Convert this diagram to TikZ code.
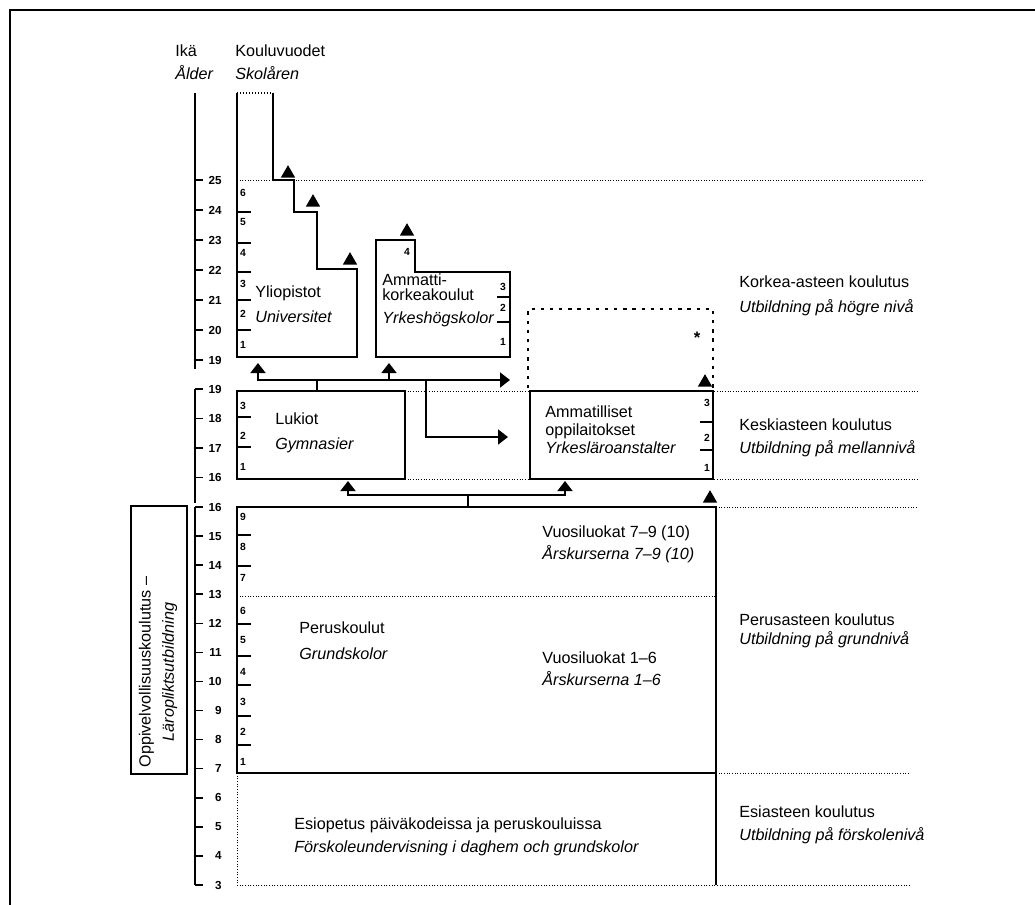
\documentclass[tikz,border=0pt]{standalone}
\usepackage{fontspec}
\setmainfont{Liberation Sans}
\usetikzlibrary{arrows.meta,positioning,shapes.geometric,calc}

\begin{document}
\begin{tikzpicture}[x=0.6pt,y=-0.6pt,
  box/.style={line width=1.3pt},
  lvl/.style={densely dotted,line width=0.6pt},
  tick/.style={line width=0.9pt},
  wire/.style={line width=1pt},
  conn/.style={line width=1pt,-{Triangle[width=9pt,length=6pt]}},
  uptri/.style={regular polygon,regular polygon sides=3,fill=black,inner sep=0pt,minimum size=10pt,anchor=south},
  yr/.style={font=\fontsize{6.2}{7}\selectfont\bfseries,inner sep=0pt},
  agelbl/.style={font=\fontsize{7}{8}\selectfont\bfseries,inner sep=0pt,anchor=east},
  txt/.style={font=\fontsize{9.7}{14}\selectfont,align=left,anchor=west,inner sep=0pt}]
  \useasboundingbox (0,0) rectangle (1035,905);
  % frame
  \draw[line width=1.1pt] (10,905) -- (10,10) -- (1035,10);
  % level lines
  \draw[lvl] (237,180) -- (925,180);
  \draw[lvl] (405,391) -- (918,391);
  \draw[lvl] (237,479) -- (918,479);
  \draw[lvl] (716,507) -- (918,507);
  \draw[lvl] (237,596) -- (716,596);
  \draw[lvl] (716,773) -- (910,773);
  \draw[lvl] (237,885) -- (910,885);
  \draw[lvl] (237,773) -- (237,885);

  % headers
  \node[txt] (ika) at (175,62) {Ikä\\\textit{Ålder}};
  \node[txt] (kv) at (235,62) {Kouluvuodet\\\textit{Skolåren}};

  % age axis
  \draw[tick] (195,93) -- (195,369);
  \foreach \a [evaluate=\a as \y using 180+(25-\a)*30] in {19,...,25}{
    \draw[tick] (195,\y) -- ++(8,0);
    \node[agelbl] (ageA\a) at (222,\y) {\a};
  }
  \draw[tick] (195,389) -- (195,503);
  \foreach \a [evaluate=\a as \y using 389+(19-\a)*29.5] in {16,...,19}{
    \draw[tick] (195,\y) -- ++(8,0);
    \node[agelbl] (ageB\a) at (222,\y) {\a};
  }
  \draw[tick] (195,507) -- (195,885);
  \foreach \a [evaluate=\a as \y using 507+(16-\a)*29.08] in {3,...,16}{
    \draw[tick] (195,\y) -- ++(8,0);
    \node[agelbl] (ageC\a) at (222,\y) {\a};
  }

  % compulsory schooling box
  \draw[box] (131,506) rectangle (187,774);
  \node[font=\fontsize{9.7}{14}\selectfont,align=center,rotate=90,inner sep=0pt] (oppi) at (158,672)
    {Oppivelvollisuuskoulutus --\\\textit{Läropliktsutbildning}};

  % universities
  \draw[densely dotted,line width=0.8pt] (237,93) -- (273,93);
  \draw[box] (273,93) -- (273,180) -- (294,180) -- (294,212) -- (317,212) -- (317,269)
    -- (357,269) -- (357,357) -- (237,357) -- (237,93);
  \foreach \y in {212,243,272,300,330} \draw[tick] (237,\y) -- ++(14,0);
  \foreach \n/\y in {6/193,5/222,4/253,3/284,2/314,1/345} \node[yr] (yo\n) at (243,\y) {\n};
  \node[txt] (yo) at (255,304) {Yliopistot\\[1pt]\textit{Universitet}};
  \node[uptri] (m1) at (288,178) {};
  \node[uptri] (m2) at (313,207) {};
  \node[uptri] (m3) at (350,265) {};

  % polytechnics
  \draw[box] (376,240) -- (415,240) -- (415,272) -- (510,272) -- (510,357) -- (376,357) -- cycle;
  \draw[tick] (497,297) -- (510,297);
  \draw[tick] (497,322) -- (510,322);
  \node[yr] (amk4) at (407,252) {4};
  \foreach \n/\y in {3/287,2/308,1/342} \node[yr] (amk\n) at (503,\y) {\n};
  \node[txt] (amk) at (382,300) {Ammatti-\\[-5pt]korkeakoulut\\\textit{Yrkeshögskolor}};
  \node[uptri] (m4) at (407,236) {};

  % dotted box
  \draw[dash pattern=on 2pt off 3.5pt,line width=0.9pt] (528,388) -- (528,309) -- (713,309) -- (713,388);
  \node[font=\bfseries] (star) at (697,338) {*};
  \node[uptri] (m5) at (705,387) {};

  % upper secondary
  \draw[box] (237,391) rectangle (405,479);
  \foreach \y in {417,447} \draw[tick] (237,\y) -- ++(14,0);
  \foreach \n/\y in {3/406,2/436,1/467} \node[yr] (luk\n) at (243,\y) {\n};
  \node[txt] (luk) at (275,433) {Lukiot\\[1pt]\textit{Gymnasier}};

  \draw[box] (530,391) rectangle (713,479);
  \foreach \y in {422,450} \draw[tick] (700,\y) -- ++(13,0);
  \foreach \n/\y in {3/403,2/438,1/468} \node[yr] (amm\n) at (707,\y) {\n};
  \node[txt] (amm) at (545,430) {Ammatilliset\\[-3.5pt]oppilaitokset\\[-3pt]\textit{Yrkesläroanstalter}};

  % basic school
  \draw[box] (237,507) rectangle (716,773);
  \draw[box] (716,773) -- (716,885);
  \foreach \y in {535,566,624,656,685,716,745} \draw[tick] (237,\y) -- ++(14,0);
  \foreach \n/\y in {9/517,8/547,7/578,6/611,5/640,4/672,3/702,2/732,1/762}
    \node[yr] (pk\n) at (243,\y) {\n};
  \node[txt] (vl79) at (542,544) {Vuosiluokat 7--9 (10)\\[-1pt]\textit{Årskurserna 7--9 (10)}};
  \node[txt] (pk) at (299,641) {Peruskoulut\\[1.5pt]\textit{Grundskolor}};
  \node[txt] (vl16) at (542,669) {Vuosiluokat 1--6\\[-1pt]\textit{Årskurserna 1--6}};
  \node[uptri] (m6) at (710,503) {};

  % pre-primary
  \node[txt] (esi) at (294,837) {Esiopetus päiväkodeissa ja peruskouluissa\\\textit{Förskoleundervisning i daghem och grundskolor}};

  % levels
  \node[txt] (ka) at (739,296) {Korkea-asteen koulutus\\[1pt]\textit{Utbildning på högre nivå}};
  \node[txt] (kes) at (739,438) {Keskiasteen koulutus\\\textit{Utbildning på mellannivå}};
  \node[txt] (per) at (739,631) {Perusasteen koulutus\\[-2.5pt]\textit{Utbildning på grundnivå}};
  \node[txt] (esa) at (739,825) {Esiasteen koulutus\\\textit{Utbildning på förskolenivå}};

  % connectors
  \coordinate (lukTop) at (317,391);
  \coordinate (j1) at (317,380);
  \coordinate (j1b) at (426,380);
  \coordinate (yoIn) at (258,363);
  \coordinate (amkIn) at (389,363);
  \coordinate (starIn) at (510,380);
  \coordinate (ammIn) at (508,437);
  \draw[wire] (lukTop) -- (j1);
  \draw[conn] (j1) -| (yoIn);
  \draw[conn] (j1) -| (amkIn);
  \draw[conn] (j1) -- (starIn);
  \draw[conn] (j1b) |- (ammIn);

  \coordinate (pkTop) at (468,507);
  \coordinate (j2) at (468,495);
  \coordinate (lukIn) at (348,481);
  \coordinate (ammIn2) at (565,481);
  \draw[wire] (pkTop) -- (j2);
  \draw[conn] (j2) -| (lukIn);
  \draw[conn] (j2) -| (ammIn2);
\end{tikzpicture}
\end{document}
